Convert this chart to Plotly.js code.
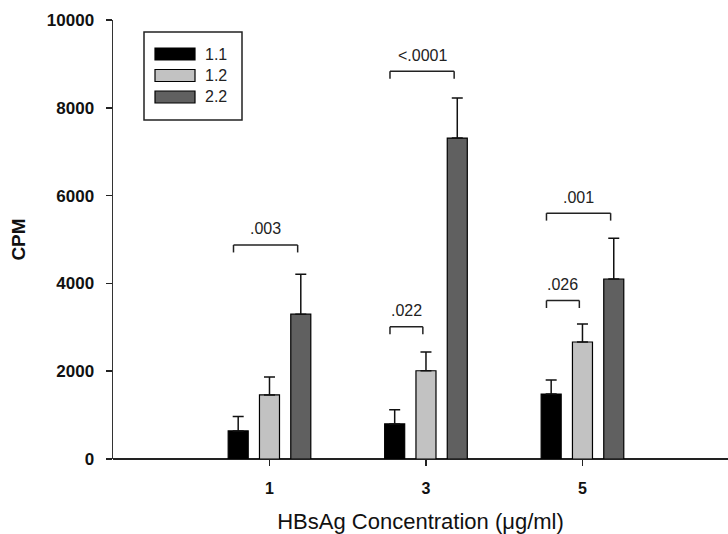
<!DOCTYPE html>
<html>
<head>
<meta charset="utf-8">
<script src="https://cdn.plot.ly/plotly-3.0.1.min.js"></script>
<style>html,body{margin:0;padding:0;background:#fff}#chart{width:728px;height:534px}</style>
</head>
<body>
<div id="chart"></div>
<script>
// ---- data ----
const categories = ['1', '3', '5'];
const seriesNames = ['1.1', '1.2', '2.2'];
const values11 = [640, 800, 1480];
const errors11 = [330, 320, 320];
const values12 = [1460, 2010, 2665];
const errors12 = [410, 425, 410];
const values22 = [3300, 7310, 4100];
const errors22 = [910, 915, 930];
const yTickValues = [0, 2000, 4000, 6000, 8000, 10000];
const yTickLabels = ['0', '2000', '4000', '6000', '8000', '10000'];
// significance brackets: group index, first bar, second bar, height, label
const bracketGroup = [0, 1, 1, 2, 2];
const bracketFrom = [0, 0, 0, 0, 0];
const bracketTo = [2, 2, 1, 2, 1];
const bracketHeight = [4875, 8830, 3010, 5600, 3610];
const bracketLabel = ['.003', '<.0001', '.022', '.001', '.026'];

// ---- styles ----
const FONT = 'Liberation Sans, Arial, sans-serif';
const colors = ['#000000', '#c2c2c2', '#606060'];
const vals = [values11, values12, values22];
const errs = [errors11, errors12, errors22];
const zeros = categories.map(() => 0);

const traces = seriesNames.map((n, i) => ({
  type: 'bar',
  name: n,
  x: categories,
  y: vals[i],
  marker: {color: colors[i], line: {color: '#000', width: 1.2}},
  error_y: {type: 'data', symmetric: false, array: errs[i], arrayminus: zeros,
            color: '#111', thickness: 1.5, width: 5.5},
  showlegend: false,
  hoverinfo: 'y'
}));

const slot = 0.2;
const centerOf = (g, b) => g + (b - 1) * slot;
const shapes = [];
const annotations = [];
const drop = 170;
for (let k = 0; k < bracketLabel.length; k++) {
  const x0 = centerOf(bracketGroup[k], bracketFrom[k]) - 0.03;
  const x1 = centerOf(bracketGroup[k], bracketTo[k]) - 0.02;
  const h = bracketHeight[k];
  const ln = {color: '#222', width: 1.5};
  shapes.push({type: 'line', xref: 'x', yref: 'y', x0: x0, x1: x1, y0: h, y1: h, line: ln});
  shapes.push({type: 'line', xref: 'x', yref: 'y', x0: x0, x1: x0, y0: h, y1: h - drop, line: ln});
  shapes.push({type: 'line', xref: 'x', yref: 'y', x0: x1, x1: x1, y0: h, y1: h - drop, line: ln});
  annotations.push({xref: 'x', yref: 'y', x: (x0 + x1) / 2, y: h, text: bracketLabel[k],
    showarrow: false, yanchor: 'middle', yshift: 16,
    font: {family: FONT, size: 16, color: '#222'}});
}

// custom legend (paper coordinates)
const legX0 = 144, legY0 = 32, legX1 = 242, legY1 = 120;
const W = 728, H = 534, mL = 113, mT = 20, mB = 75, mR = 0;
const pw = W - mL - mR, ph = H - mT - mB;
const px = x => (x - mL) / pw;
const py = y => 1 - (y - mT) / ph;
shapes.push({type: 'rect', xref: 'paper', yref: 'paper', x0: px(legX0), x1: px(legX1), y0: py(legY1), y1: py(legY0),
  line: {color: '#222', width: 1.5}, fillcolor: '#fff', layer: 'above'});
const rowY = [54, 75.5, 97];
seriesNames.forEach((n, i) => {
  shapes.push({type: 'rect', xref: 'paper', yref: 'paper', x0: px(155), x1: px(195),
    y0: py(rowY[i] + 6), y1: py(rowY[i] - 6), fillcolor: colors[i], line: {color: '#000', width: 1.2}, layer: 'above'});
  annotations.push({xref: 'paper', yref: 'paper', x: px(203), y: py(rowY[i]), xanchor: 'left', yanchor: 'middle',
    text: n, showarrow: false, font: {family: FONT, size: 16, color: '#222'}});
});

const layout = {
  width: W, height: H,
  margin: {l: mL, r: mR, t: mT, b: mB},
  paper_bgcolor: '#fff', plot_bgcolor: '#fff',
  barmode: 'group', bargap: 0.4, bargroupgap: 0.36,
  xaxis: {
    type: 'category', range: [-1, 2.93], showgrid: false, zeroline: false,
    showline: false, ticks: 'outside', ticklen: 6, tickwidth: 1.5, tickcolor: '#222',
    ticklabelstandoff: 9,
    tickfont: {family: FONT, size: 16, color: '#111', weight: 'bold'},
    title: {text: 'HBsAg Concentration (μg/ml)', standoff: 20,
      font: {family: FONT, size: 22, color: '#111'}},
    automargin: false, fixedrange: true
  },
  yaxis: {
    range: [0, 10000], tickmode: 'array', tickvals: yTickValues, ticktext: yTickLabels, showgrid: false,
    zeroline: true, zerolinecolor: '#222', zerolinewidth: 1.5,
    showline: true, linecolor: '#333', linewidth: 1.5,
    ticks: 'outside', ticklen: 6, tickwidth: 1.5, tickcolor: '#222',
    ticklabelstandoff: 8,
    tickfont: {family: FONT, size: 17, color: '#111', weight: 'bold'},
    title: {text: 'CPM', standoff: 16,
      font: {family: FONT, size: 19, color: '#111', weight: 'bold'}},
    automargin: false, fixedrange: true
  },
  shapes: shapes,
  annotations: annotations,
  showlegend: false
};

Plotly.newPlot('chart', traces, layout, {displayModeBar: false, staticPlot: true});
</script>
</body>
</html>
